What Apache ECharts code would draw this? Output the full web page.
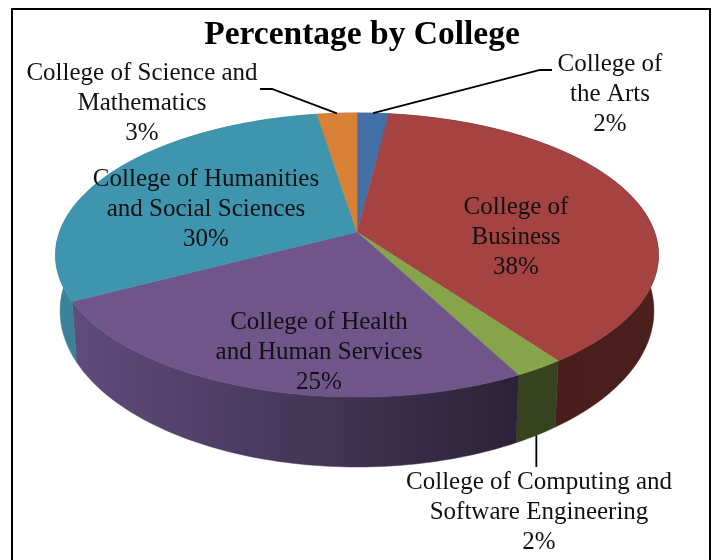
<!DOCTYPE html>
<html>
<head>
<meta charset="utf-8">
<style>html,body{margin:0;padding:0;background:#fff}#c{width:715px;height:560px}</style>
<script src="https://cdn.jsdelivr.net/npm/echarts@6/dist/echarts.min.js"></script>
</head>
<body>
<div id="c"></div>
<script>
// ---- data ----
const titleText = 'Percentage by College';
const colleges = [
  'College of\nthe Arts',
  'College of\nBusiness',
  'College of Computing and\nSoftware Engineering',
  'College of Health\nand Human Services',
  'College of Humanities\nand Social Sciences',
  'College of Science and\nMathematics'
];
const shares = [2, 38, 2.3, 25, 30.2, 2.5];

// ---- style ----
const topColors = ['#4470A8', '#A54342', '#86A44A', '#6F5589', '#3F94AE', '#D98136'];
const wallLeft  = ['#2F4D75', '#4A1F1C', '#37421F', '#604C7C', '#3A8199', '#96591F'];
const wallRight = ['#2F4D75', '#451C1A', '#37421F', '#2B2237', '#39808F', '#96591F'];
const fontFamily = '"Liberation Serif", serif';

// ---- layout ----
const labelPos = [[610, 94], [516, 237], [539, 512], [319, 352], [206, 209], [142, 103]];
const topRim = {cx: 357, cy: 232, a: 138.3, b: 297.5, k: 0.162};
const baseRim = {cx: 357, cy: 285.6, a: 152, b: 293, k: 0.162};
// leader: label-side points, then a point on the rim of the slice
const leaders = {
  0: {pts: [[552, 70], [540, 70]], rim: topRim, frac: 0.5},
  5: {pts: [[260, 89], [272, 89]], rim: topRim, frac: 0.5},
  2: {drop: 467, rim: baseRim, frac: 0.5}
};

const total = shares.reduce((a, b) => a + b, 0);
let running = 0;
const rows = shares.map((s) => { const r = [s, running]; running += s; return r; });

function rimPoint(rim, share) {
  const t = share / total * Math.PI * 2;
  const u = Math.sin(t), v = Math.cos(t), w = 1 + rim.k * v;
  return [rim.cx + rim.b * u / w, rim.cy - rim.a * v / w];
}
function arc(rim, from, to) {
  const n = Math.max(4, Math.ceil(Math.abs(to - from) * 3));
  const out = [];
  for (let i = 0; i <= n; i++) out.push(rimPoint(rim, from + (to - from) * i / n));
  return out;
}
const spanOf = (api) => { const s = api.value(0), st = api.value(1); return [st, st + s]; };

const chart = echarts.init(document.getElementById('c'), null, {renderer: 'canvas'});
chart.setOption({
  backgroundColor: '#ffffff',
  animation: false,
  title: {
    text: titleText, left: 357, top: 13, textAlign: 'center',
    textStyle: {fontFamily, fontWeight: 'bold', fontSize: 33.5, color: '#000'}
  },
  graphic: [{
    type: 'rect', shape: {x: 12, y: 9, width: 698, height: 620}, silent: true,
    style: {fill: 'none', stroke: '#000', lineWidth: 2}
  }],
  series: [
    { // walls
      type: 'custom', coordinateSystem: 'none', z: 1, silent: true, data: rows,
      renderItem(params, api) {
        const i = params.dataIndex, [a, b] = spanOf(api);
        const tops = arc(topRim, a, b), bases = arc(baseRim, a, b).reverse();
        const xs = tops.map(p => p[0]);
        const fill = new echarts.graphic.LinearGradient(Math.min(...xs), 0, Math.max(...xs), 0,
          [{offset: 0, color: i === 1 ? wallRight[i] : wallLeft[i]},
           {offset: 1, color: i === 1 ? wallLeft[i] : wallRight[i]}], true);
        return {
          type: 'polygon', shape: {points: tops.concat(bases)},
          style: {fill, stroke: fill, lineWidth: 0.5}
        };
      }
    },
    { // top faces
      type: 'custom', coordinateSystem: 'none', z: 2, silent: true, data: rows,
      renderItem(params, api) {
        const i = params.dataIndex, [a, b] = spanOf(api);
        const pts = [[topRim.cx, topRim.cy]].concat(arc(topRim, a, b));
        return {
          type: 'polygon', shape: {points: pts},
          style: {fill: topColors[i], stroke: topColors[i], lineWidth: 0.5}
        };
      }
    },
    { // leaders and labels
      type: 'custom', coordinateSystem: 'none', z: 3, silent: true, data: rows,
      renderItem(params, api) {
        const i = params.dataIndex, [a, b] = spanOf(api);
        const children = [];
        const ld = leaders[i];
        if (ld) {
          const end = rimPoint(ld.rim, a + (b - a) * ld.frac);
          const pts = ld.drop ? [end, [end[0], ld.drop]] : ld.pts.concat([end]);
          children.push({
            type: 'polyline', shape: {points: pts},
            style: {fill: 'none', stroke: '#000', lineWidth: 1.8}
          });
        }
        children.push({
          type: 'text',
          style: {
            text: colleges[i] + '\n' + Math.round(api.value(0)) + '%',
            x: labelPos[i][0], y: labelPos[i][1],
            align: 'center', verticalAlign: 'middle',
            font: '25px ' + fontFamily, lineHeight: 30, fill: '#111'
          }
        });
        return {type: 'group', children};
      }
    }
  ]
});
</script>
</body>
</html>
